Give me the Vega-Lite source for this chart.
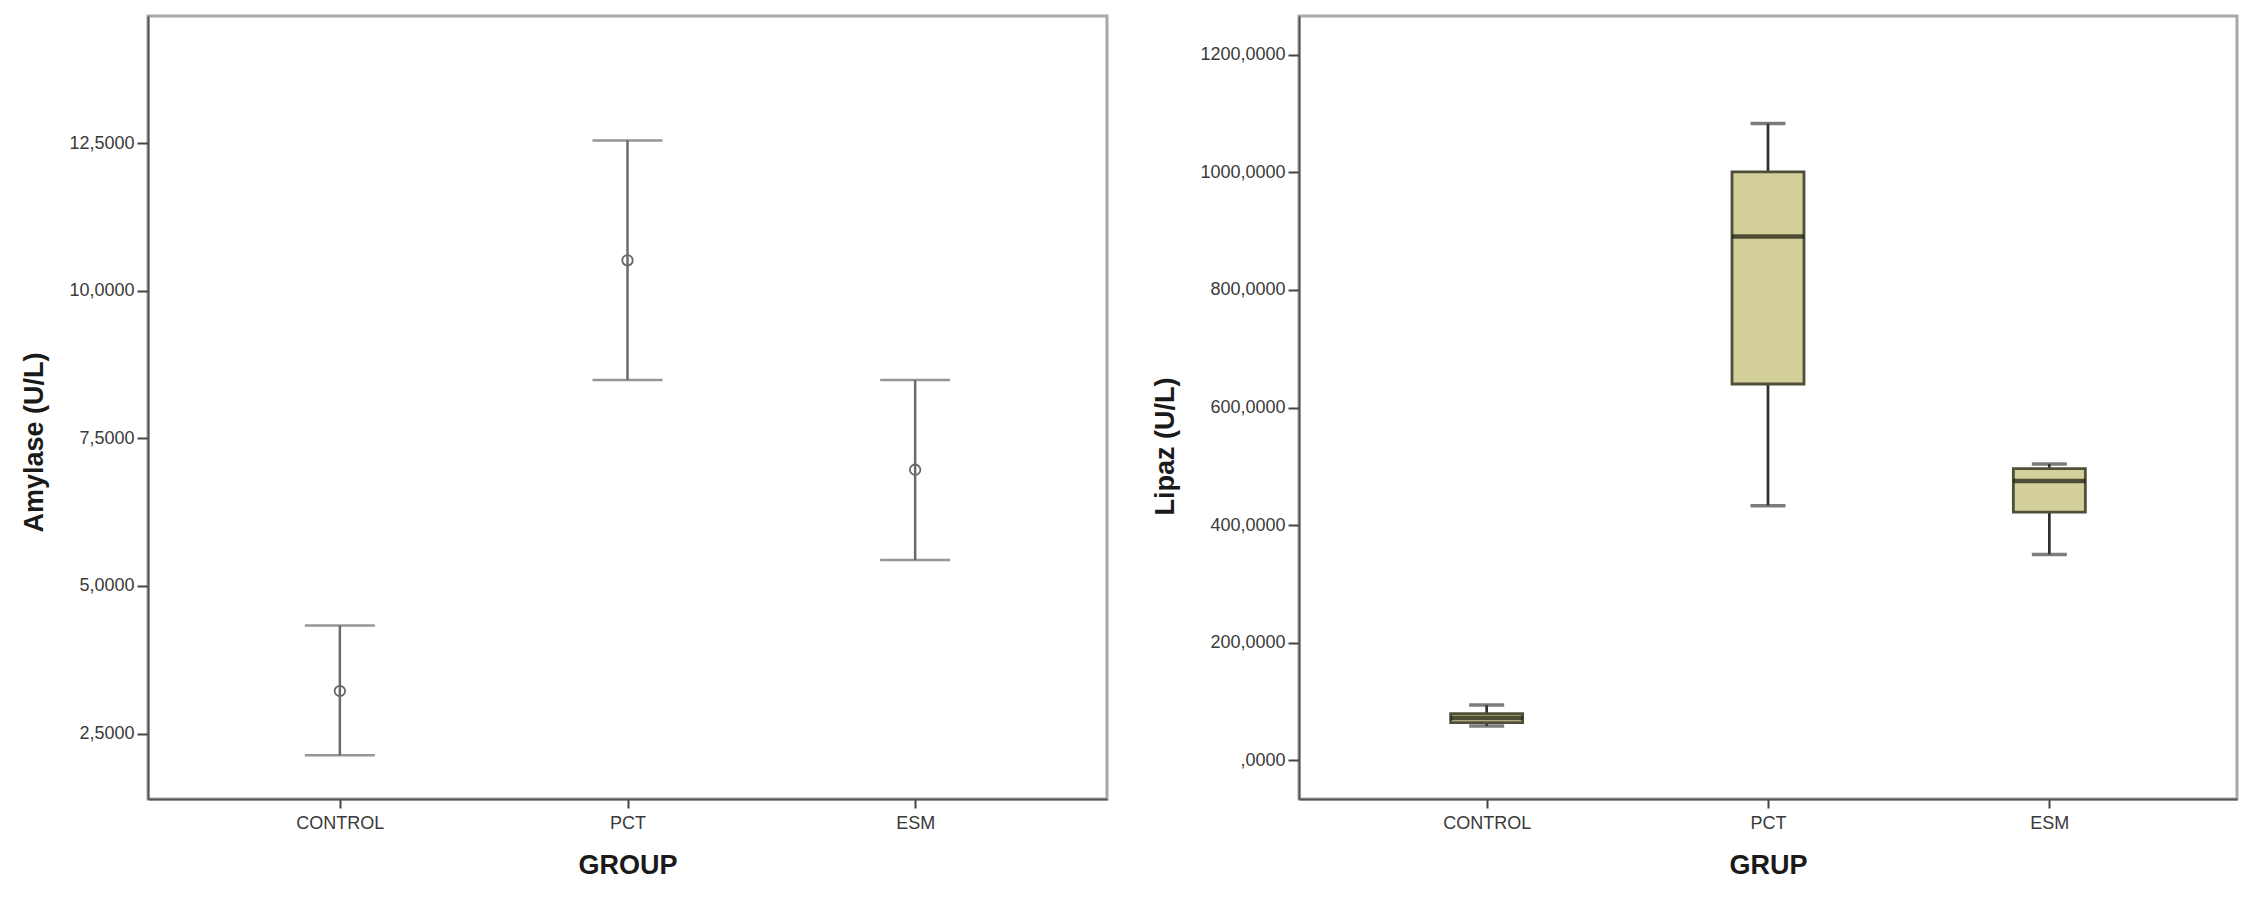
{
  "$schema": "https://vega.github.io/schema/vega-lite/v6.json",
  "background": "white",
  "padding": {"left": 19, "top": 14, "right": 10, "bottom": 10},
  "spacing": 41,
  "datasets": {
    "amylase": [
      {"group": "CONTROL", "mean": 3.22, "lower": 2.13, "upper": 4.33},
      {"group": "PCT", "mean": 10.52, "lower": 8.49, "upper": 12.55},
      {"group": "ESM", "mean": 6.97, "lower": 5.44, "upper": 8.49}
    ],
    "lipaz": [
      {"group": "CONTROL", "lo": 58, "q1": 64, "med": 72, "q3": 79, "hi": 94},
      {"group": "PCT", "lo": 433, "q1": 640, "med": 891, "q3": 1001, "hi": 1083},
      {"group": "ESM", "lo": 350, "q1": 422, "med": 475, "q3": 496, "hi": 504}
    ]
  },
  "config": {
    "font": "Liberation Sans",
    "view": {"stroke": "#a8a8a8", "strokeWidth": 3},
    "axis": {
      "grid": false,
      "domainColor": "#555555",
      "domainWidth": 2,
      "tickColor": "#444444",
      "tickWidth": 2,
      "labelFont": "Liberation Sans",
      "labelFontSize": 18,
      "labelColor": "#3a3a3a",
      "titleFont": "Liberation Sans",
      "titleFontSize": 27,
      "titleFontWeight": "bold",
      "titleColor": "#1a1a1a"
    },
    "axisX": {"tickSize": 9, "labelPadding": 6, "titlePadding": 20, "labelAngle": 0},
    "axisY": {"tickSize": 11, "labelPadding": 3, "titlePadding": 20}
  },
  "hconcat": [
    {
      "width": 959,
      "height": 783,
      "data": {"name": "amylase"},
      "encoding": {
        "x": {
          "field": "group", "type": "nominal", "sort": ["CONTROL", "PCT", "ESM"],
          "scale": {"type": "point", "padding": 0.667},
          "axis": {"title": "GROUP"}
        }
      },
      "layer": [
        {
          "mark": {"type": "rule", "color": "#6a6a6a", "strokeWidth": 2.5},
          "encoding": {
            "y": {
              "field": "lower", "type": "quantitative",
              "scale": {"domain": [1.39, 14.66], "nice": false, "zero": false},
              "axis": {
                "title": "Amylase (U/L)",
                "titleY": 426,
                "values": [2.5, 5, 7.5, 10, 12.5],
                "labelExpr": "replace(format(datum.value, '.4f'), '.', ',')"
              }
            },
            "y2": {"field": "upper"}
          }
        },
        {
          "mark": {"type": "tick", "color": "#6a6a6a", "size": 70, "thickness": 2.5},
          "encoding": {"y": {"field": "lower", "type": "quantitative"}}
        },
        {
          "mark": {"type": "tick", "color": "#6a6a6a", "size": 70, "thickness": 2.5},
          "encoding": {"y": {"field": "upper", "type": "quantitative"}}
        },
        {
          "mark": {"type": "point", "shape": "circle", "filled": false, "color": "#666666", "strokeWidth": 1.8, "size": 110, "opacity": 1},
          "encoding": {"y": {"field": "mean", "type": "quantitative"}}
        }
      ]
    },
    {
      "width": 938,
      "height": 783,
      "data": {"name": "lipaz"},
      "encoding": {
        "x": {
          "field": "group", "type": "nominal", "sort": ["CONTROL", "PCT", "ESM"],
          "scale": {"type": "point", "padding": 0.667},
          "axis": {"title": "GRUP"}
        }
      },
      "layer": [
        {
          "mark": {"type": "rule", "color": "#2e2e2e", "strokeWidth": 2.7},
          "encoding": {
            "y": {
              "field": "lo", "type": "quantitative",
              "scale": {"domain": [-66, 1266], "nice": false, "zero": false},
              "axis": {
                "title": "Lipaz (U/L)",
                "titleY": 430,
                "values": [0, 200, 400, 600, 800, 1000, 1200],
                "labelExpr": "datum.value == 0 ? ',0000' : replace(format(datum.value, '.4f'), '.', ',')"
              }
            },
            "y2": {"field": "hi"}
          }
        },
        {
          "mark": {"type": "tick", "color": "#444444", "size": 35, "thickness": 3.5},
          "encoding": {"y": {"field": "lo", "type": "quantitative"}}
        },
        {
          "mark": {"type": "tick", "color": "#444444", "size": 35, "thickness": 3.5},
          "encoding": {"y": {"field": "hi", "type": "quantitative"}}
        },
        {
          "mark": {"type": "bar", "size": 72, "fill": "#d3d09b", "stroke": "#4f4f3a", "strokeWidth": 2.8},
          "encoding": {
            "y": {"field": "q1", "type": "quantitative"},
            "y2": {"field": "q3"}
          }
        },
        {
          "mark": {"type": "tick", "color": "#161608", "size": 72, "thickness": 4.5},
          "encoding": {"y": {"field": "med", "type": "quantitative"}}
        }
      ]
    }
  ]
}
